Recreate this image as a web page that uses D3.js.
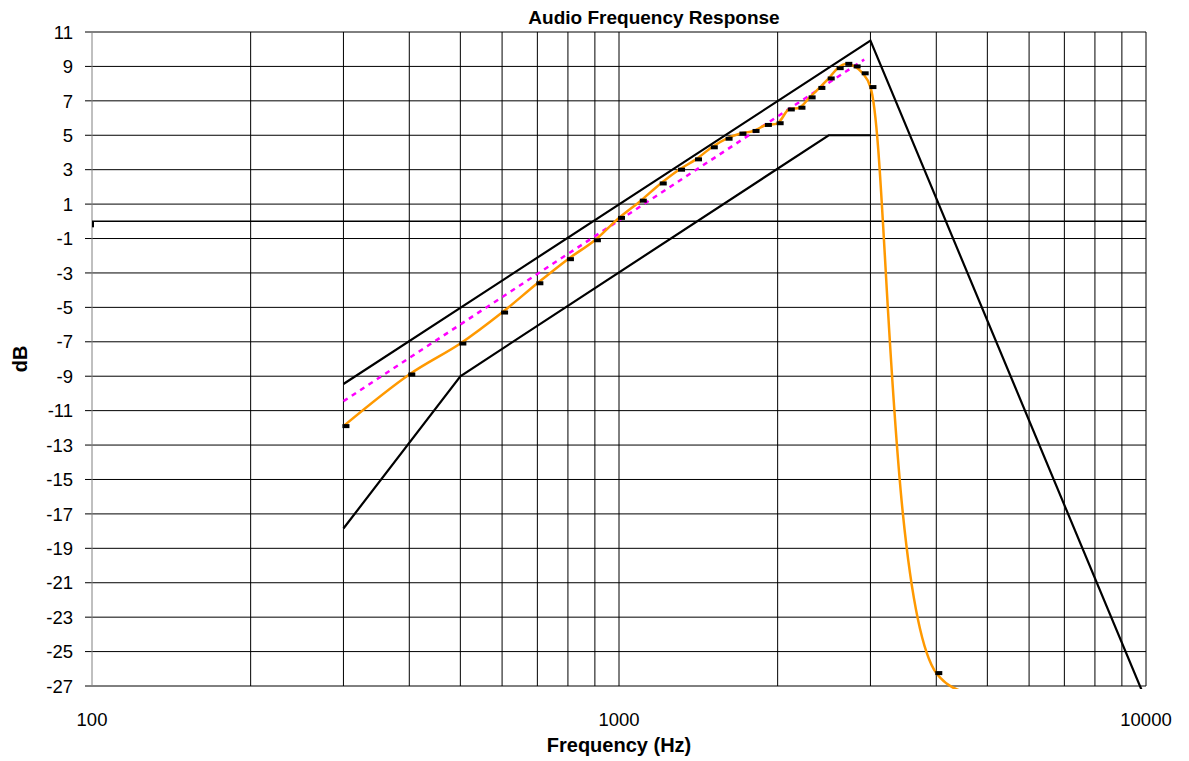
<!DOCTYPE html>
<html>
<head>
<meta charset="utf-8">
<script src="https://cdn.jsdelivr.net/npm/d3@7"></script>
<style>
  body { margin: 0; background: #fff; }
  text { font-family: "Liberation Sans", Arial, sans-serif; }
</style>
</head>
<body>
<div id="chart"></div>
<script>
// measured response (orange, with markers)
const measFreq = [300, 400, 500, 600, 700, 800, 900, 1000, 1100, 1200, 1300, 1400, 1500, 1600, 1700, 1800, 1900, 2000, 2100, 2200, 2300, 2400, 2500, 2600, 2700, 2800, 2900, 3000, 4000, 5000, 6000, 7000, 8000, 9000, 10000];
const measDb = [-11.9, -8.9, -7.1, -5.3, -3.6, -2.2, -1.1, 0.2, 1.2, 2.2, 3.0, 3.6, 4.3, 4.8, 5.1, 5.25, 5.6, 5.7, 6.5, 6.6, 7.2, 7.75, 8.3, 8.9, 9.15, 9.0, 8.6, 7.8, -26.25, -27.6, -27.5, -27.45, -28.5, -29, -29.5];

// upper limit mask
const upperFreq = [300, 3000, 9800];
const upperDb = [-9.45, 10.5, -27.2];

// lower limit mask
const lowerFreq = [300, 500, 2500, 3000];
const lowerDb = [-17.85, -9, 5, 5];

// target (magenta dashed)
const targetFreq = [300, 2920];
const targetDb = [-10.45, 9.4];

// 0 dB reference
const zeroFreq = [100, 10000];
const zeroDb = [0, 0];

const yTicks = d3.range(-27, 12, 2);
const xLabels = [100, 1000, 10000];
const xGrid = [200, 300, 400, 500, 600, 700, 800, 900, 1000, 2000, 3000, 4000, 5000, 6000, 7000, 8000, 9000, 10000];

const W = 1189, H = 761;
const margin = {top: 32, right: 43, bottom: 75, left: 92};
const width = W - margin.left - margin.right;
const height = H - margin.top - margin.bottom;

const svg = d3.select("#chart").append("svg")
    .attr("width", W)
    .attr("height", H);

const g = svg.append("g")
    .attr("transform", "translate(" + margin.left + "," + margin.top + ")");

const x = d3.scaleLog().domain([100, 10000]).range([0, width]);
const y = d3.scaleLinear().domain([-27, 11]).range([height, 0]);

// grid
g.selectAll(".hgrid").data(yTicks).enter().append("line")
    .attr("x1", -7).attr("x2", width)
    .attr("y1", d => y(d)).attr("y2", d => y(d))
    .attr("stroke", "#000").attr("stroke-width", 1);

g.selectAll(".vgrid").data(xGrid).enter().append("line")
    .attr("x1", d => x(d)).attr("x2", d => x(d))
    .attr("y1", 0).attr("y2", height)
    .attr("stroke", "#000").attr("stroke-width", 1);

// y axis line
g.append("line")
    .attr("x1", 0).attr("x2", 0).attr("y1", 0).attr("y2", height)
    .attr("stroke", "#808080").attr("stroke-width", 1);

// y tick labels
g.selectAll(".ylab").data(yTicks).enter().append("text")
    .attr("x", -19).attr("y", d => y(d))
    .attr("dy", "0.36em")
    .attr("text-anchor", "end")
    .attr("font-size", 18.5)
    .text(d => String(d));

// x tick labels
g.selectAll(".xlab").data(xLabels).enter().append("text")
    .attr("x", d => x(d)).attr("y", height + 40)
    .attr("text-anchor", "middle")
    .attr("font-size", 18.5)
    .text(d => String(d));

// clip (Excel lets lines run a few px past the plot edge)
svg.append("defs").append("clipPath").attr("id", "plotclip")
    .append("rect").attr("x", -2).attr("y", -3).attr("width", width + 4).attr("height", height + 6);

const plot = g.append("g").attr("clip-path", "url(#plotclip)");

const toPts = (fs, vs) => fs.map((f, i) => ({f: f, v: vs[i]}));
const line = d3.line().x(d => x(d.f)).y(d => y(d.v));

const zero = toPts(zeroFreq, zeroDb);
plot.append("path")
    .datum(zero)
    .attr("fill", "none").attr("stroke", "#000").attr("stroke-width", 1.5)
    .attr("d", line);
// little marker stub at the start of the 0 dB line
plot.append("rect")
    .attr("x", x(zero[0].f)).attr("y", y(zero[0].v))
    .attr("width", 2).attr("height", 6).attr("fill", "#000");

plot.append("path")
    .datum(toPts(upperFreq, upperDb))
    .attr("fill", "none").attr("stroke", "#000").attr("stroke-width", 2.2)
    .attr("d", line);

plot.append("path")
    .datum(toPts(lowerFreq, lowerDb))
    .attr("fill", "none").attr("stroke", "#000").attr("stroke-width", 2.2)
    .attr("d", line);

plot.append("path")
    .datum(toPts(targetFreq, targetDb))
    .attr("fill", "none").attr("stroke", "#ff00ff").attr("stroke-width", 2.5)
    .attr("stroke-dasharray", "5,5")
    .attr("d", line);

const meas = toPts(measFreq, measDb);
plot.append("path")
    .datum(meas)
    .attr("fill", "none").attr("stroke", "#ff9900").attr("stroke-width", 2.5)
    .attr("d", line.curve(d3.curveCatmullRom.alpha(0.5)));

plot.selectAll(".mk").data(meas).enter().append("rect")
    .attr("x", d => x(d.f) - 1).attr("y", d => y(d.v) - 2)
    .attr("width", 7).attr("height", 4)
    .attr("fill", "#000");

// titles
svg.append("text")
    .attr("x", 654).attr("y", 24)
    .attr("text-anchor", "middle")
    .attr("font-size", 19).attr("font-weight", "bold")
    .text("Audio Frequency Response");

svg.append("text")
    .attr("x", margin.left + width / 2).attr("y", 752)
    .attr("text-anchor", "middle")
    .attr("font-size", 20).attr("font-weight", "bold")
    .text("Frequency (Hz)");

svg.append("text")
    .attr("transform", "translate(27," + (margin.top + height / 2) + ") rotate(-90)")
    .attr("text-anchor", "middle")
    .attr("font-size", 20).attr("font-weight", "bold")
    .text("dB");
</script>
</body>
</html>
